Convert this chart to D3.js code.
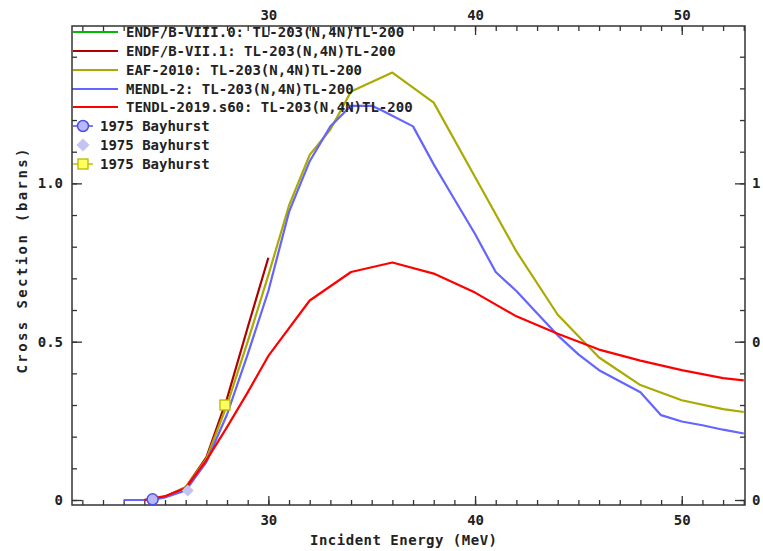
<!DOCTYPE html>
<html>
<head>
<meta charset="utf-8">
<script src="https://cdn.jsdelivr.net/npm/d3@7"></script>
<style>
  body { margin: 0; background: #fff; }
  text { font-family: "DejaVu Sans Mono", monospace; font-weight: bold; fill: #222; }
</style>
</head>
<body>
<div id="chart"></div>
<script>
// evaluated cross sections, energy in MeV, sigma in barns
const mendlE = [23, 24, 24.5, 25, 26, 27, 28, 29, 30, 31, 32, 33, 34, 35, 35.5, 37, 38, 39, 40, 41, 42, 43, 44, 45, 46, 47, 48, 49, 50, 51, 52, 53];
const mendlS = [0, 0, 0.002, 0.008, 0.03, 0.12, 0.27, 0.46, 0.66, 0.91, 1.07, 1.18, 1.245, 1.245, 1.23, 1.18, 1.06, 0.95, 0.84, 0.72, 0.66, 0.59, 0.52, 0.46, 0.41, 0.375, 0.34, 0.268, 0.248, 0.236, 0.222, 0.21];

const eafE = [24, 25, 26, 27, 28, 29, 30, 31, 32, 33, 34, 36, 38, 40, 42, 44, 46, 48, 50, 52, 53];
const eafS = [0, 0.01, 0.04, 0.13, 0.3, 0.5, 0.71, 0.93, 1.09, 1.17, 1.29, 1.35, 1.255, 1.02, 0.785, 0.585, 0.45, 0.363, 0.315, 0.287, 0.278];

const tendlE = [24, 25, 26, 27, 28, 29, 30, 32, 34, 36, 38, 40, 42, 44, 46, 48, 50, 52, 53];
const tendlS = [0, 0.012, 0.038, 0.125, 0.23, 0.34, 0.455, 0.63, 0.72, 0.75, 0.715, 0.655, 0.58, 0.525, 0.475, 0.44, 0.41, 0.385, 0.378];

const endf71E = [24, 25, 26, 27, 28, 29, 30];
const endf71S = [0, 0.01, 0.04, 0.135, 0.32, 0.545, 0.765];

const endf80E = [];
const endf80S = [];

// 1975 Bayhurst measurements
const expCircle = [{e: 24.4, s: 0.002, de: 0.3}];
const expDiamond = [{e: 26.1, s: 0.03}];
const expSquare = [{e: 27.9, s: 0.30, de: 0.2}];

const seriesNames = [
  "ENDF/B-VIII.0: TL-203(N,4N)TL-200",
  "ENDF/B-VII.1: TL-203(N,4N)TL-200",
  "EAF-2010: TL-203(N,4N)TL-200",
  "MENDL-2: TL-203(N,4N)TL-200",
  "TENDL-2019.s60: TL-203(N,4N)TL-200"
];
const seriesColors = ["#00bb00", "#b00000", "#aaaa00", "#6464ff", "#ff0000"];
const expName = "1975 Bayhurst";

const width = 763, height = 551;
const pLeft = 72, pRight = 745, pTop = 26, pBottom = 505;

const svg = d3.select('#chart').append('svg')
  .attr('width', width).attr('height', height);

const x = d3.scaleLinear().domain([20.5, 53.06]).range([pLeft, pRight]);
const y = d3.scaleLinear().domain([-0.0158, 1.497]).range([pBottom, pTop]);

svg.append('defs').append('clipPath').attr('id', 'plotclip')
  .append('rect').attr('x', pLeft).attr('y', pTop + 1)
  .attr('width', pRight - pLeft).attr('height', pBottom - pTop - 1);

// axes, ticks drawn inward
const majorX = [30, 40, 50];
const minorX = d3.range(21, 54);
const majorY = [0, 0.5, 1.0];
const minorY = d3.range(0, 15).map(i => i / 10);

function styleAxis(g) {
  g.selectAll('path').remove();
  g.selectAll('line').attr('stroke', '#333').attr('stroke-width', 1.3);
  g.selectAll('text').attr('font-size', 14).attr('fill', '#222');
}

svg.append('g').attr('transform', `translate(0,${pBottom})`)
  .call(d3.axisBottom(x).tickValues(minorX).tickSize(-5).tickFormat(''))
  .call(styleAxis);
svg.append('g').attr('transform', `translate(0,${pBottom})`)
  .call(d3.axisBottom(x).tickValues(majorX).tickSize(-9).tickPadding(10).tickFormat(d3.format('d')))
  .call(styleAxis);
svg.append('g').attr('transform', `translate(0,${pTop})`)
  .call(d3.axisTop(x).tickValues(minorX).tickSize(-5).tickFormat(''))
  .call(styleAxis);
svg.append('g').attr('transform', `translate(0,${pTop})`)
  .call(d3.axisTop(x).tickValues(majorX).tickSize(-9).tickPadding(6).tickFormat(d3.format('d')))
  .call(styleAxis);

const yFmt = d => d === 0 ? '0' : d3.format('.1f')(d);
svg.append('g').attr('transform', `translate(${pLeft},0)`)
  .call(d3.axisLeft(y).tickValues(minorY).tickSize(-5).tickFormat(''))
  .call(styleAxis);
svg.append('g').attr('transform', `translate(${pLeft},0)`)
  .call(d3.axisLeft(y).tickValues(majorY).tickSize(-10).tickPadding(9).tickFormat(yFmt))
  .call(styleAxis);
svg.append('g').attr('transform', `translate(${pRight},0)`)
  .call(d3.axisRight(y).tickValues(minorY).tickSize(-5).tickFormat(''))
  .call(styleAxis);
svg.append('g').attr('transform', `translate(${pRight},0)`)
  .call(d3.axisRight(y).tickValues(majorY).tickSize(-10).tickPadding(7).tickFormat(yFmt))
  .call(styleAxis);

// frame
svg.append('rect').attr('x', pLeft).attr('y', pTop)
  .attr('width', pRight - pLeft).attr('height', pBottom - pTop)
  .attr('fill', 'none').attr('stroke', '#333').attr('stroke-width', 1.5);

// titles
svg.append('text').attr('x', (310 + 497) / 2).attr('y', 540)
  .attr('text-anchor', 'middle').attr('dominant-baseline', 'central')
  .attr('font-size', 14).attr('textLength', 187).attr('lengthAdjust', 'spacing')
  .text('Incident Energy (MeV)');
svg.append('text').attr('transform', 'translate(22,261) rotate(-90)')
  .attr('text-anchor', 'middle').attr('dominant-baseline', 'central')
  .attr('font-size', 14).attr('textLength', 225).attr('lengthAdjust', 'spacing')
  .text('Cross Section (barns)');

// curves
const plot = svg.append('g').attr('clip-path', 'url(#plotclip)');
const line = d3.line().x(d => x(d[0])).y(d => y(d[1]));
const curves = [
  [endf80E, endf80S],
  [endf71E, endf71S],
  [eafE, eafS],
  [mendlE, mendlS],
  [tendlE, tendlS]
];
// draw order: green, dark red, olive, blue, red on top
curves.forEach(([es, ss], i) => {
  if (!es.length) return;
  plot.append('path')
    .datum(es.map((e, j) => [e, ss[j]]))
    .attr('d', line)
    .attr('fill', 'none')
    .attr('stroke', seriesColors[i])
    .attr('stroke-width', 2.2)
    .attr('stroke-linejoin', 'round');
});

// experimental points
expCircle.forEach(d => {
  plot.append('line').attr('x1', x(d.e - d.de)).attr('x2', x(d.e + d.de))
    .attr('y1', y(d.s)).attr('y2', y(d.s)).attr('stroke', '#5050e0').attr('stroke-width', 1.5);
  plot.append('circle').attr('cx', x(d.e)).attr('cy', y(d.s)).attr('r', 5.5)
    .attr('fill', '#b8b8ff').attr('stroke', '#5050e0').attr('stroke-width', 1.5);
});
expDiamond.forEach(d => {
  plot.append('path').attr('d', d3.symbol(d3.symbolDiamond2, 90)())
    .attr('transform', `translate(${x(d.e)},${y(d.s)})`)
    .attr('fill', '#c4c4f0');
});
expSquare.forEach(d => {
  plot.append('line').attr('x1', x(d.e - d.de)).attr('x2', x(d.e + d.de))
    .attr('y1', y(d.s)).attr('y2', y(d.s)).attr('stroke', '#c0c000').attr('stroke-width', 1.5);
  plot.append('rect').attr('x', x(d.e) - 5).attr('y', y(d.s) - 5).attr('width', 10).attr('height', 10)
    .attr('fill', '#ffff60').attr('stroke', '#b8b800').attr('stroke-width', 1.3);
});

// legend
const legend = svg.append('g').attr('clip-path', 'url(#plotclip)');
const legY = [32, 51, 70, 89, 107];
seriesNames.forEach((name, i) => {
  legend.append('line').attr('x1', 73).attr('x2', 118)
    .attr('y1', legY[i]).attr('y2', legY[i])
    .attr('stroke', seriesColors[i]).attr('stroke-width', 2.2);
  legend.append('text').attr('x', 126).attr('y', legY[i])
    .attr('dominant-baseline', 'central').attr('font-size', 14)
    .text(name);
});
const symY = [126, 145, 164];
legend.append('line').attr('x1', 73).attr('x2', 93).attr('y1', symY[0]).attr('y2', symY[0])
  .attr('stroke', '#5050e0').attr('stroke-width', 1.5);
legend.append('circle').attr('cx', 83).attr('cy', symY[0]).attr('r', 5.5)
  .attr('fill', '#b8b8ff').attr('stroke', '#5050e0').attr('stroke-width', 1.5);
legend.append('path').attr('d', d3.symbol(d3.symbolDiamond2, 110)())
  .attr('transform', `translate(83,${symY[1]})`).attr('fill', '#c4c4f0');
legend.append('line').attr('x1', 73).attr('x2', 93).attr('y1', symY[2]).attr('y2', symY[2])
  .attr('stroke', '#c0c000').attr('stroke-width', 1.5);
legend.append('rect').attr('x', 78).attr('y', symY[2] - 5).attr('width', 10).attr('height', 10)
  .attr('fill', '#ffff60').attr('stroke', '#b8b800').attr('stroke-width', 1.3);
symY.forEach(yy => {
  legend.append('text').attr('x', 100).attr('y', yy)
    .attr('dominant-baseline', 'central').attr('font-size', 14)
    .text(expName);
});
</script>
</body>
</html>
